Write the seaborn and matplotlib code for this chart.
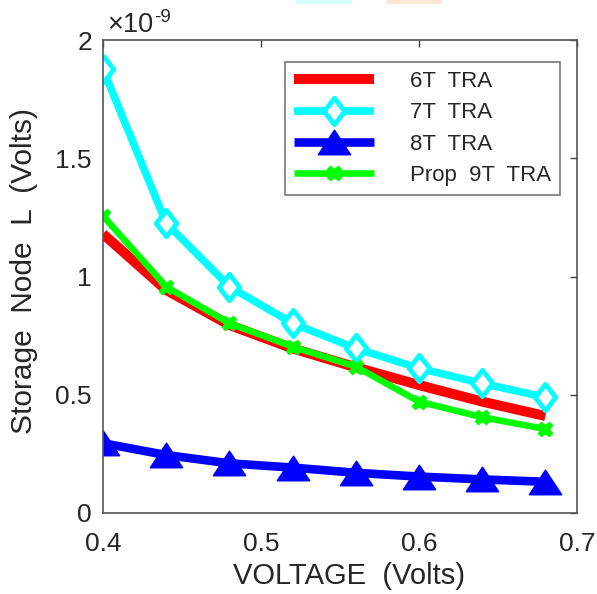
import matplotlib
matplotlib.use("Agg")
import matplotlib.pyplot as plt
from matplotlib.path import Path
from matplotlib.patches import Rectangle
import seaborn as sns
import pandas as pd

voltage = [0.40, 0.44, 0.48, 0.52, 0.56, 0.60, 0.64, 0.68]
tra6 = [1.18e-9, 0.943e-9, 0.795e-9, 0.696e-9, 0.616e-9, 0.541e-9, 0.471e-9, 0.41e-9]
tra7 = [1.876e-9, 1.226e-9, 0.957e-9, 0.802e-9, 0.696e-9, 0.612e-9, 0.548e-9, 0.489e-9]
tra8 = [0.295e-9, 0.245e-9, 0.21e-9, 0.192e-9, 0.17e-9, 0.154e-9, 0.142e-9, 0.132e-9]
tra9 = [1.256e-9, 0.957e-9, 0.802e-9, 0.703e-9, 0.619e-9, 0.471e-9, 0.405e-9, 0.355e-9]
labels = ["6T  TRA", "7T  TRA", "8T  TRA", "Prop  9T  TRA"]

sns.set_theme(style="white")
plt.rcParams['font.family'] = ['Liberation Sans', 'DejaVu Sans']

W, H = 597, 594
fig = plt.figure(figsize=(W / 100, H / 100), dpi=100)
ax = fig.add_axes([103 / W, 1 - 513 / H, (577 - 103) / W, (513 - 40) / H])

diamond = Path([(0, 1), (0.78, 0), (0, -1), (-0.78, 0), (0, 1)],
               [Path.MOVETO, Path.LINETO, Path.LINETO, Path.LINETO, Path.CLOSEPOLY])
tri = Path([(0, 0.76), (1, -0.76), (-1, -0.76), (0, 0.76)],
           [Path.MOVETO, Path.LINETO, Path.LINETO, Path.CLOSEPOLY])

styles = [
    dict(color="#ff0000", lw=7.2, marker=None),
    dict(color="#00ffff", lw=5.5, marker=diamond, ms=19, mfc="white", mew=3.5),
    dict(color="#0000ff", lw=6.2, marker=tri, ms=23, mfc="#0000ff", mew=1.2),
    dict(color="#00ff00", lw=4.7, marker="X", ms=10.5, mfc="#00ff00", mew=1),
]
series = [tra6, tra7, tra8, tra9]
for vals, lab, st in zip(series, labels, styles):
    df = pd.DataFrame({"x": voltage, "y": vals})
    kw = dict(color=st["color"], linewidth=st["lw"], label=lab,
              solid_capstyle="butt", solid_joinstyle="round")
    if st["marker"] is not None:
        kw.update(marker=st["marker"], markersize=st["ms"], markerfacecolor=st["mfc"],
                  markeredgecolor=st["color"], markeredgewidth=st["mew"])
    sns.lineplot(data=df, x="x", y="y", ax=ax, **kw)

ax.set_xlim(0.4, 0.7)
ax.set_ylim(0, 2e-9)
ax.set_xticks([0.4, 0.5, 0.6, 0.7])
ax.set_xticklabels(["0.4", "0.5", "0.6", "0.7"])
ax.set_yticks([0, 0.5e-9, 1e-9, 1.5e-9, 2e-9])
ax.set_yticklabels(["0", "0.5", "1", "1.5", "2"])
ax.tick_params(direction="in", length=5, width=1, colors="#404040", labelsize=19,
               top=True, right=True, labelcolor="#262626")
ax.tick_params(axis="x", pad=14)
ax.tick_params(axis="y", pad=8)
for sp in ax.spines.values():
    sp.set_color("#555555")
    sp.set_linewidth(1.2)
ax.set_xlabel("VOLTAGE  (Volts)", fontsize=21, color="#262626")
ax.set_ylabel("Storage  Node  L  (Volts)", fontsize=21.5, color="#262626")
ax.xaxis.set_label_coords(0.519, -0.104)
ax.yaxis.set_label_coords(-0.137, 0.512)

fig.text(107 / W, 1 - 32 / H, "\u00d710", fontsize=19.5, color="#262626",
         ha="left", va="baseline")
fig.text(154 / W, 1 - 22 / H, "-9", fontsize=13.5, color="#262626",
         ha="left", va="baseline")

leg = ax.legend(loc="upper right", bbox_to_anchor=(0.964, 0.9535), borderaxespad=0,
                fontsize=16, frameon=True, fancybox=False, edgecolor="#555555",
                handlelength=3.6, handletextpad=1.62, labelspacing=0.47, borderpad=0.4)
leg.get_frame().set_linewidth(1.2)
for t in leg.get_texts():
    t.set_color("#262626")

fig.patches.append(Rectangle((296, 590), 56, 4, transform=None, facecolor="#d6fbfd",
                             edgecolor="none"))
fig.patches.append(Rectangle((386, 590), 56, 4, transform=None, facecolor="#fde6d6",
                             edgecolor="none"))

fig.savefig("out.png", dpi=100)
